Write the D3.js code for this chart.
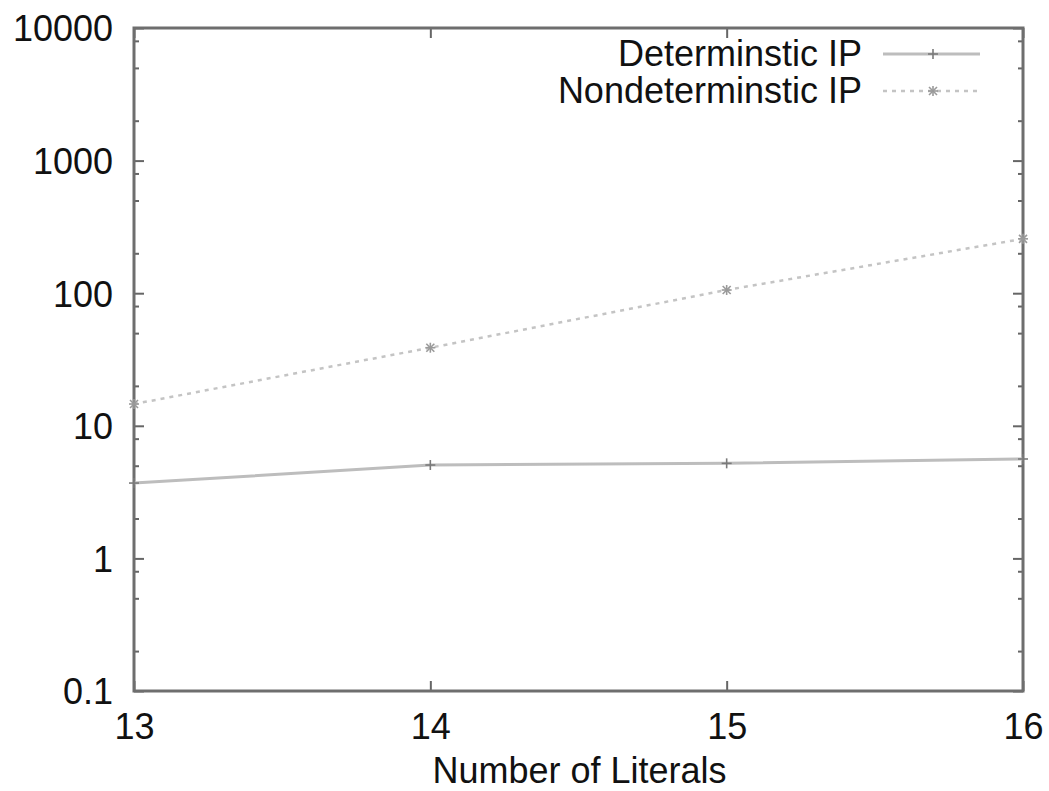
<!DOCTYPE html>
<html>
<head>
<meta charset="utf-8">
<script src="https://cdn.jsdelivr.net/npm/d3@7"></script>
<style>
  html, body { margin: 0; padding: 0; background: #fff; }
  svg { display: block; }
  text { font-family: "Liberation Sans", Arial, Helvetica, sans-serif; fill: #111; }
</style>
</head>
<body>
<svg id="chart" width="1049" height="791"></svg>
<script>
// Number of literals on the x axis
const literals = [13, 14, 15, 16];
// Running times (log scale) for each method
const deterministic = [3.7, 5.06, 5.21, 5.62];
const nondeterministic = [14.6, 38.8, 105.7, 257];
// Axis ticks
const yMajorTicks = [0.1, 1, 10, 100, 1000, 10000];
const yMinorTicks = [0.2, 0.5, 0.8, 2, 5, 8, 20, 50, 80, 200, 500, 800, 2000, 5000, 8000];
const xTicks = [13, 14, 15, 16];
const seriesNames = ["Determinstic IP", "Nondeterminstic IP"];

const svg = d3.select("#chart");
const plot = { left: 134, right: 1023, top: 28, bottom: 691 };

const x = d3.scaleLinear().domain([13, 16]).range([plot.left, plot.right]);
const y = d3.scaleLog().domain([0.1, 10000]).range([plot.bottom, plot.top]);

const fontSize = 36;
const tickColor = "#666";

function styleAxis(g) {
  g.select(".domain").remove();
  g.selectAll(".tick line").attr("stroke", tickColor).attr("stroke-width", 2);
  g.selectAll(".tick text")
    .attr("font-size", fontSize)
    .style("font-family", '"Liberation Sans", Arial, sans-serif')
    .attr("fill", "#111");
}

// Left axis: major ticks with labels, minor ticks without
svg.append("g")
  .attr("transform", `translate(${plot.left},0)`)
  .call(d3.axisLeft(y).tickValues(yMajorTicks).tickSize(-10).tickPadding(21)
    .tickFormat(d => d3.format("~g")(d)))
  .call(styleAxis)
  .call(g => g.selectAll(".tick text").attr("dy", "0.36em"));

svg.append("g")
  .attr("transform", `translate(${plot.left},0)`)
  .call(d3.axisLeft(y).tickValues(yMinorTicks).tickSize(-5).tickFormat(""))
  .call(styleAxis);

// Right axis: mirrored ticks
svg.append("g")
  .attr("transform", `translate(${plot.right},0)`)
  .call(d3.axisRight(y).tickValues(yMajorTicks).tickSize(-10).tickFormat(""))
  .call(styleAxis);

svg.append("g")
  .attr("transform", `translate(${plot.right},0)`)
  .call(d3.axisRight(y).tickValues(yMinorTicks).tickSize(-5).tickFormat(""))
  .call(styleAxis);

// Bottom axis with labels
svg.append("g")
  .attr("transform", `translate(0,${plot.bottom})`)
  .call(d3.axisBottom(x).tickValues(xTicks).tickSize(-10).tickPadding(22).tickFormat(d3.format("d")))
  .call(styleAxis);

// Top axis: mirrored ticks
svg.append("g")
  .attr("transform", `translate(0,${plot.top})`)
  .call(d3.axisTop(x).tickValues(xTicks).tickSize(-10).tickFormat(""))
  .call(styleAxis);

// Plot frame
svg.append("rect")
  .attr("x", plot.left).attr("y", plot.top)
  .attr("width", plot.right - plot.left).attr("height", plot.bottom - plot.top)
  .attr("fill", "none").attr("stroke", "#6e6e6e").attr("stroke-width", 3);

// X axis title
svg.append("text")
  .attr("x", (plot.left + plot.right) / 2 + 1)
  .attr("y", 783)
  .attr("text-anchor", "middle")
  .attr("font-size", fontSize)
  .text("Number of Literals");

const line = d3.line().x(d => x(d[0])).y(d => y(d[1]));

const series = [
  { name: seriesNames[0], values: deterministic, color: "#bdbdbd", dash: null, width: 3, marker: "plus" },
  { name: seriesNames[1], values: nondeterministic, color: "#c4c4c4", dash: "4,5", width: 2.5, marker: "star" }
];

function drawMarker(g, cx, cy, type) {
  const s = 5;
  const m = g.append("g").attr("stroke", "#7a7a7a").attr("stroke-width", 1.6);
  if (type === "plus") {
    m.append("line").attr("x1", cx - s).attr("x2", cx + s).attr("y1", cy).attr("y2", cy);
    m.append("line").attr("x1", cx).attr("x2", cx).attr("y1", cy - s).attr("y2", cy + s);
  } else {
    m.attr("stroke", "#9a9a9a");
    m.append("line").attr("x1", cx - s).attr("x2", cx + s).attr("y1", cy).attr("y2", cy);
    m.append("line").attr("x1", cx).attr("x2", cx).attr("y1", cy - s).attr("y2", cy + s);
    m.append("line").attr("x1", cx - 4).attr("x2", cx + 4).attr("y1", cy - 4).attr("y2", cy + 4);
    m.append("line").attr("x1", cx - 4).attr("x2", cx + 4).attr("y1", cy + 4).attr("y2", cy - 4);
  }
}

series.forEach(s => {
  const pts = literals.map((lit, i) => [lit, s.values[i]]);
  svg.append("path")
    .datum(pts)
    .attr("d", line)
    .attr("fill", "none")
    .attr("stroke", s.color)
    .attr("stroke-width", s.width)
    .attr("stroke-dasharray", s.dash);
  const mg = svg.append("g");
  pts.forEach(p => drawMarker(mg, x(p[0]), y(p[1]), s.marker));
});

// Legend
const legendY = [53, 90];
series.forEach((s, i) => {
  const ly = legendY[i];
  svg.append("text")
    .attr("x", 862)
    .attr("y", ly + 13)
    .attr("text-anchor", "end")
    .attr("font-size", fontSize)
    .text(s.name);
  svg.append("line")
    .attr("x1", 883).attr("x2", 980)
    .attr("y1", ly + 1).attr("y2", ly + 1)
    .attr("stroke", s.color)
    .attr("stroke-width", s.width)
    .attr("stroke-dasharray", s.dash);
  drawMarker(svg, 933, ly + 1, s.marker);
});
</script>
</body>
</html>
